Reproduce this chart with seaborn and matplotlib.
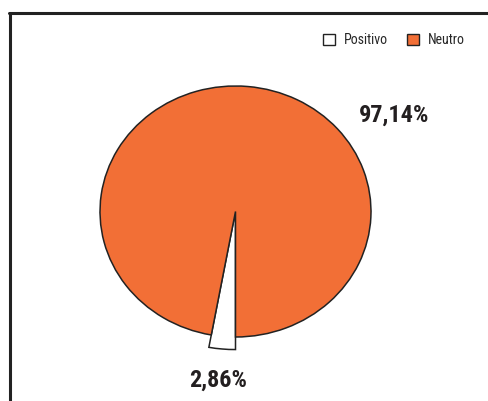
import matplotlib
matplotlib.use("Agg")
import matplotlib.pyplot as plt
import seaborn as sns
from matplotlib import font_manager
from matplotlib.patches import Patch
from matplotlib.lines import Line2D

categories = ["Positivo", "Neutro"]
values = [2.86, 97.14]
labels = ["2,86%", "97,14%"]
colors = ["#FFFFFF", "#F26F36"]

sns.set_theme(style="white")

def pick(cands):
    for c in cands:
        try:
            font_manager.findfont(c, fallback_to_default=False)
            return c
        except Exception:
            pass
    return "DejaVu Sans"

fam = pick(["Liberation Sans Narrow", "DejaVu Sans Condensed", "Roboto Condensed", "Open Sans Condensed", "Noto Sans"])
plt.rcParams["font.family"] = [fam, "DejaVu Sans"]

W, H = 488, 401
fig = plt.figure(figsize=(W / 100, H / 100), dpi=100)

# pie axes spanning the ellipse
x0, x1 = 100, 371
y0, y1 = 86, 337
ax = fig.add_axes([x0 / W, 1 - y1 / H, (x1 - x0) / W, (y1 - y0) / H])

start = 270 - values[0] / 100 * 360
wedges, _ = ax.pie(values, colors=colors, startangle=start, counterclock=True,
                   wedgeprops=dict(edgecolor="#222222", linewidth=1.1))
wedges[0].set_radius(1.1)
for w in wedges:
    w.set_clip_on(False)
ax.set_aspect("auto")
ax.set_xlim(-1, 1)
ax.set_ylim(-1, 1)
ax.axis("off")

# value labels
fig.text(394 / W, 1 - 115 / H, labels[1], ha="center", va="center",
         fontsize=17.5, fontweight="bold", color="#231F20")
fig.text(218 / W, 1 - 380 / H, labels[0], ha="center", va="center",
         fontsize=17.5, fontweight="bold", color="#231F20")

# legend
handles = [Patch(facecolor=c, edgecolor="#222222", linewidth=1.0) for c in colors]
fig.legend(handles, categories, loc="center right",
           bbox_to_anchor=(465 / W, 1 - 40 / H), ncol=2, frameon=False,
           handlelength=0.86, handleheight=0.86, handletextpad=0.65,
           columnspacing=1.35, fontsize=10, borderaxespad=0, borderpad=0)

# frame lines (top and left)
fig.add_artist(Line2D([9 / W, 1], [1 - 12.5 / H, 1 - 12.5 / H], transform=fig.transFigure,
                      color="#222222", linewidth=2.2))
fig.add_artist(Line2D([10 / W, 10 / W], [0, 1 - 12.5 / H], transform=fig.transFigure,
                      color="#222222", linewidth=2.2))

fig.savefig("out.png", dpi=100)
